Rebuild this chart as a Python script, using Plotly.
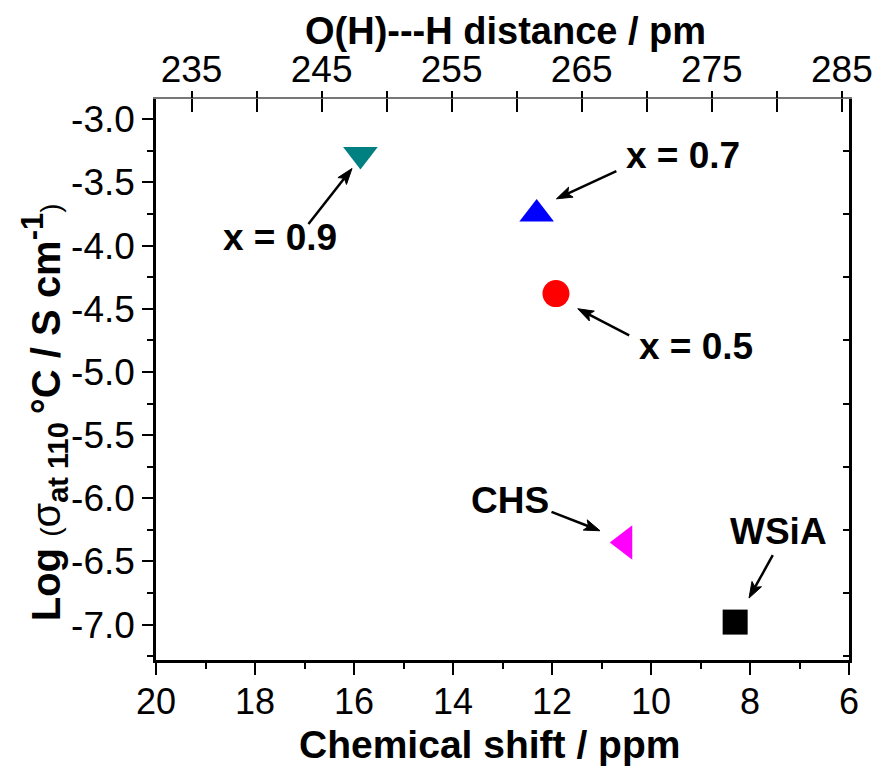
import math
import plotly.graph_objects as go

# ---------------- data ----------------
samples = ["WSiA", "CHS", "x = 0.5", "x = 0.7", "x = 0.9"]
chem_shift = [8.30, 10.53, 11.92, 12.31, 15.87]          # ppm
log_sigma = [-6.98, -6.35, -4.38, -3.75, -3.28]           # log(S/cm) at 110 C
symbols = ["square", "triangle-left", "circle", "triangle-up", "triangle-down"]
colors = ["#000000", "#FF00FF", "#FF0000", "#0000FF", "#008080"]
sizes = [25, 30, 27, 30, 30]

x_ticks = [20, 18, 16, 14, 12, 10, 8, 6]
y_ticks = [-3.0, -3.5, -4.0, -4.5, -5.0, -5.5, -6.0, -6.5, -7.0]
y_tick_labels = ["-3.0", "-3.5", "-4.0", "-4.5", "-5.0", "-5.5", "-6.0", "-6.5", "-7.0"]
top_ticks = [235, 245, 255, 265, 275, 285]
top_minor = [235, 240, 245, 250, 255, 260, 265, 270, 275, 280, 285]
right_ticks = [-3.25, -3.75, -4.25, -4.75, -5.25, -5.75, -6.25, -6.75, -7.25]

# annotation layout (data coordinates): label centre, arrow tail, arrow tip
label_pos = {
    "x = 0.9": (17.49, -3.94),
    "x = 0.7": (9.36, -3.285),
    "x = 0.5": (9.09, -4.80),
    "CHS": (12.84, -6.02),
    "WSiA": (7.43, -6.265),
}
arrow_tail = {
    "x = 0.9": (16.92, -3.83),
    "x = 0.7": (10.70, -3.41),
    "x = 0.5": (10.44, -4.71),
    "CHS": (12.01, -6.107),
    "WSiA": (7.54, -6.45),
}
arrow_tip = {
    "x = 0.9": (16.04, -3.39),
    "x = 0.7": (11.91, -3.63),
    "x = 0.5": (11.48, -4.50),
    "CHS": (11.03, -6.257),
    "WSiA": (8.02, -6.79),
}

FONT = "Arial, Liberation Sans, sans-serif"

W, H = 885, 768
M = dict(l=156, r=28, t=99, b=108)
xr = [20, 6]
yr = [-7.28, -2.84]
top_r = [232.27, 285.55]

plot_w = W - M["l"] - M["r"]
plot_h = H - M["t"] - M["b"]
sx = plot_w / (xr[0] - xr[1])
sy = plot_h / (yr[1] - yr[0])


def to_px(x, y):
    return (xr[0] - x) * sx, (yr[1] - y) * sy


def to_data(X, Y):
    return xr[0] - X / sx, yr[1] - Y / sy


def paper_x(px):
    return (px - M["l"]) / plot_w


def paper_y(py):
    return (plot_h - (py - M["t"])) / plot_h


fig = go.Figure()
for name, xv, yv, sym, col, sz in zip(samples, chem_shift, log_sigma, symbols, colors, sizes):
    fig.add_trace(go.Scatter(
        x=[xv], y=[yv], mode="markers", name=name,
        marker=dict(symbol=sym, color=col, size=sz, line=dict(width=0)),
        showlegend=False, xaxis="x", yaxis="y",
    ))

# dummy traces to activate overlay axes
fig.add_trace(go.Scatter(x=[None], y=[None], xaxis="x2", yaxis="y", showlegend=False))
fig.add_trace(go.Scatter(x=[None], y=[None], xaxis="x3", yaxis="y", showlegend=False))
fig.add_trace(go.Scatter(x=[None], y=[None], xaxis="x", yaxis="y2", showlegend=False))

annotations = []
shapes = []
HEAD_L, HEAD_W, NOTCH = 16, 5.5, 3.5
for name in samples:
    lx, ly = label_pos[name]
    annotations.append(dict(
        x=lx, y=ly, xref="x", yref="y", text="<b>%s</b>" % name, showarrow=False,
        font=dict(family=FONT, size=37, color="black"), xanchor="center", yanchor="middle",
    ))
    tX, tY = to_px(*arrow_tail[name])
    hX, hY = to_px(*arrow_tip[name])
    L = math.hypot(hX - tX, hY - tY)
    dx, dy = (hX - tX) / L, (hY - tY) / L
    nx, ny = -dy, dx
    bX, bY = hX - HEAD_L * dx, hY - HEAD_L * dy
    kX, kY = hX - (HEAD_L - NOTCH) * dx, hY - (HEAD_L - NOTCH) * dy
    p1 = to_data(bX + HEAD_W * nx, bY + HEAD_W * ny)
    p2 = to_data(bX - HEAD_W * nx, bY - HEAD_W * ny)
    pk = to_data(kX, kY)
    tip = arrow_tip[name]
    tail = arrow_tail[name]
    shapes.append(dict(
        type="line", xref="x", yref="y", x0=tail[0], y0=tail[1], x1=pk[0], y1=pk[1],
        line=dict(color="black", width=2.5),
    ))
    shapes.append(dict(
        type="path", xref="x", yref="y",
        path="M %f,%f L %f,%f L %f,%f L %f,%f Z" % (tip[0], tip[1], p1[0], p1[1], pk[0], pk[1], p2[0], p2[1]),
        fillcolor="black", line=dict(color="black", width=1),
    ))

# axis titles drawn as text annotations for exact placement
annotations.append(dict(
    x=paper_x(44), y=paper_y(412), xref="paper", yref="paper",
    text=("<b>Log</b> <span style='font-size:28px'>(</span>σ<sub><span style='font-size:29px'><b>at 110 </b></span></sub>"
          "<b>°C / S cm</b><sup><span style='font-size:31px'><b>-1</b></span></sup>"
          "<span style='font-size:28px'>)</span>"),
    textangle=-90, showarrow=False, xanchor="center", yanchor="middle",
    font=dict(family=FONT, size=40, color="black"),
))
annotations.append(dict(
    x=paper_x(493), y=paper_y(767), xref="paper", yref="paper",
    text="<b>Chemical shift / ppm</b>", showarrow=False, xanchor="center", yanchor="bottom",
    borderpad=0, font=dict(family=FONT, size=39, color="black"),
))
annotations.append(dict(
    x=paper_x(510), y=paper_y(31), xref="paper", yref="paper",
    text="<b>O(H)---H distance / pm</b>", showarrow=False, xanchor="center", yanchor="middle",
    font=dict(family=FONT, size=38, color="black"),
))

fig.update_layout(
    width=W, height=H,
    margin=M,
    paper_bgcolor="white", plot_bgcolor="white",
    font=dict(family=FONT, color="black"),
    annotations=annotations,
    shapes=shapes,
    xaxis=dict(
        range=xr, tickvals=x_ticks, ticktext=[str(v) for v in x_ticks],
        ticks="outside", ticklen=12, tickwidth=2, tickcolor="black",
        minor=dict(dtick=1, tick0=6, ticks="outside", ticklen=6, tickwidth=2, tickcolor="black"),
        showline=True, linecolor="black", linewidth=2.5, showgrid=False, zeroline=False,
        tickfont=dict(size=36), anchor="y", ticklabelstandoff=-4,
    ),
    xaxis2=dict(
        range=top_r, overlaying="x", side="top", anchor="y",
        tickvals=top_ticks, ticktext=[str(v) for v in top_ticks],
        ticks="inside", ticklen=13, tickwidth=2, tickcolor="black",
        minor=dict(tickvals=top_minor, ticks="inside", ticklen=13, tickwidth=2, tickcolor="black"),
        showline=True, linecolor="#777777", linewidth=2, showgrid=False, zeroline=False,
        tickfont=dict(size=37), ticklabelstandoff=0,
    ),
    xaxis3=dict(
        range=top_r, overlaying="x", side="top", anchor="y",
        tickvals=top_minor, ticktext=["" for _ in top_minor],
        ticks="outside", ticklen=7, tickwidth=2, tickcolor="black",
        showline=False, showgrid=False, zeroline=False, showticklabels=False,
    ),
    yaxis=dict(
        range=yr, tickvals=y_ticks, ticktext=y_tick_labels,
        ticks="outside", ticklen=11, tickwidth=2, tickcolor="black",
        minor=dict(dtick=0.25, tick0=-7.0, ticks="outside", ticklen=6, tickwidth=2, tickcolor="black"),
        showline=True, linecolor="black", linewidth=2.5, showgrid=False, zeroline=False,
        tickfont=dict(size=37), anchor="x",
    ),
    yaxis2=dict(
        range=yr, overlaying="y", side="right", anchor="x",
        tickvals=right_ticks, ticks="inside", ticklen=6, tickwidth=2, tickcolor="black",
        showticklabels=False, showline=True, linecolor="black", linewidth=2.5,
        showgrid=False, zeroline=False,
    ),
)

fig.write_html("out.html")
